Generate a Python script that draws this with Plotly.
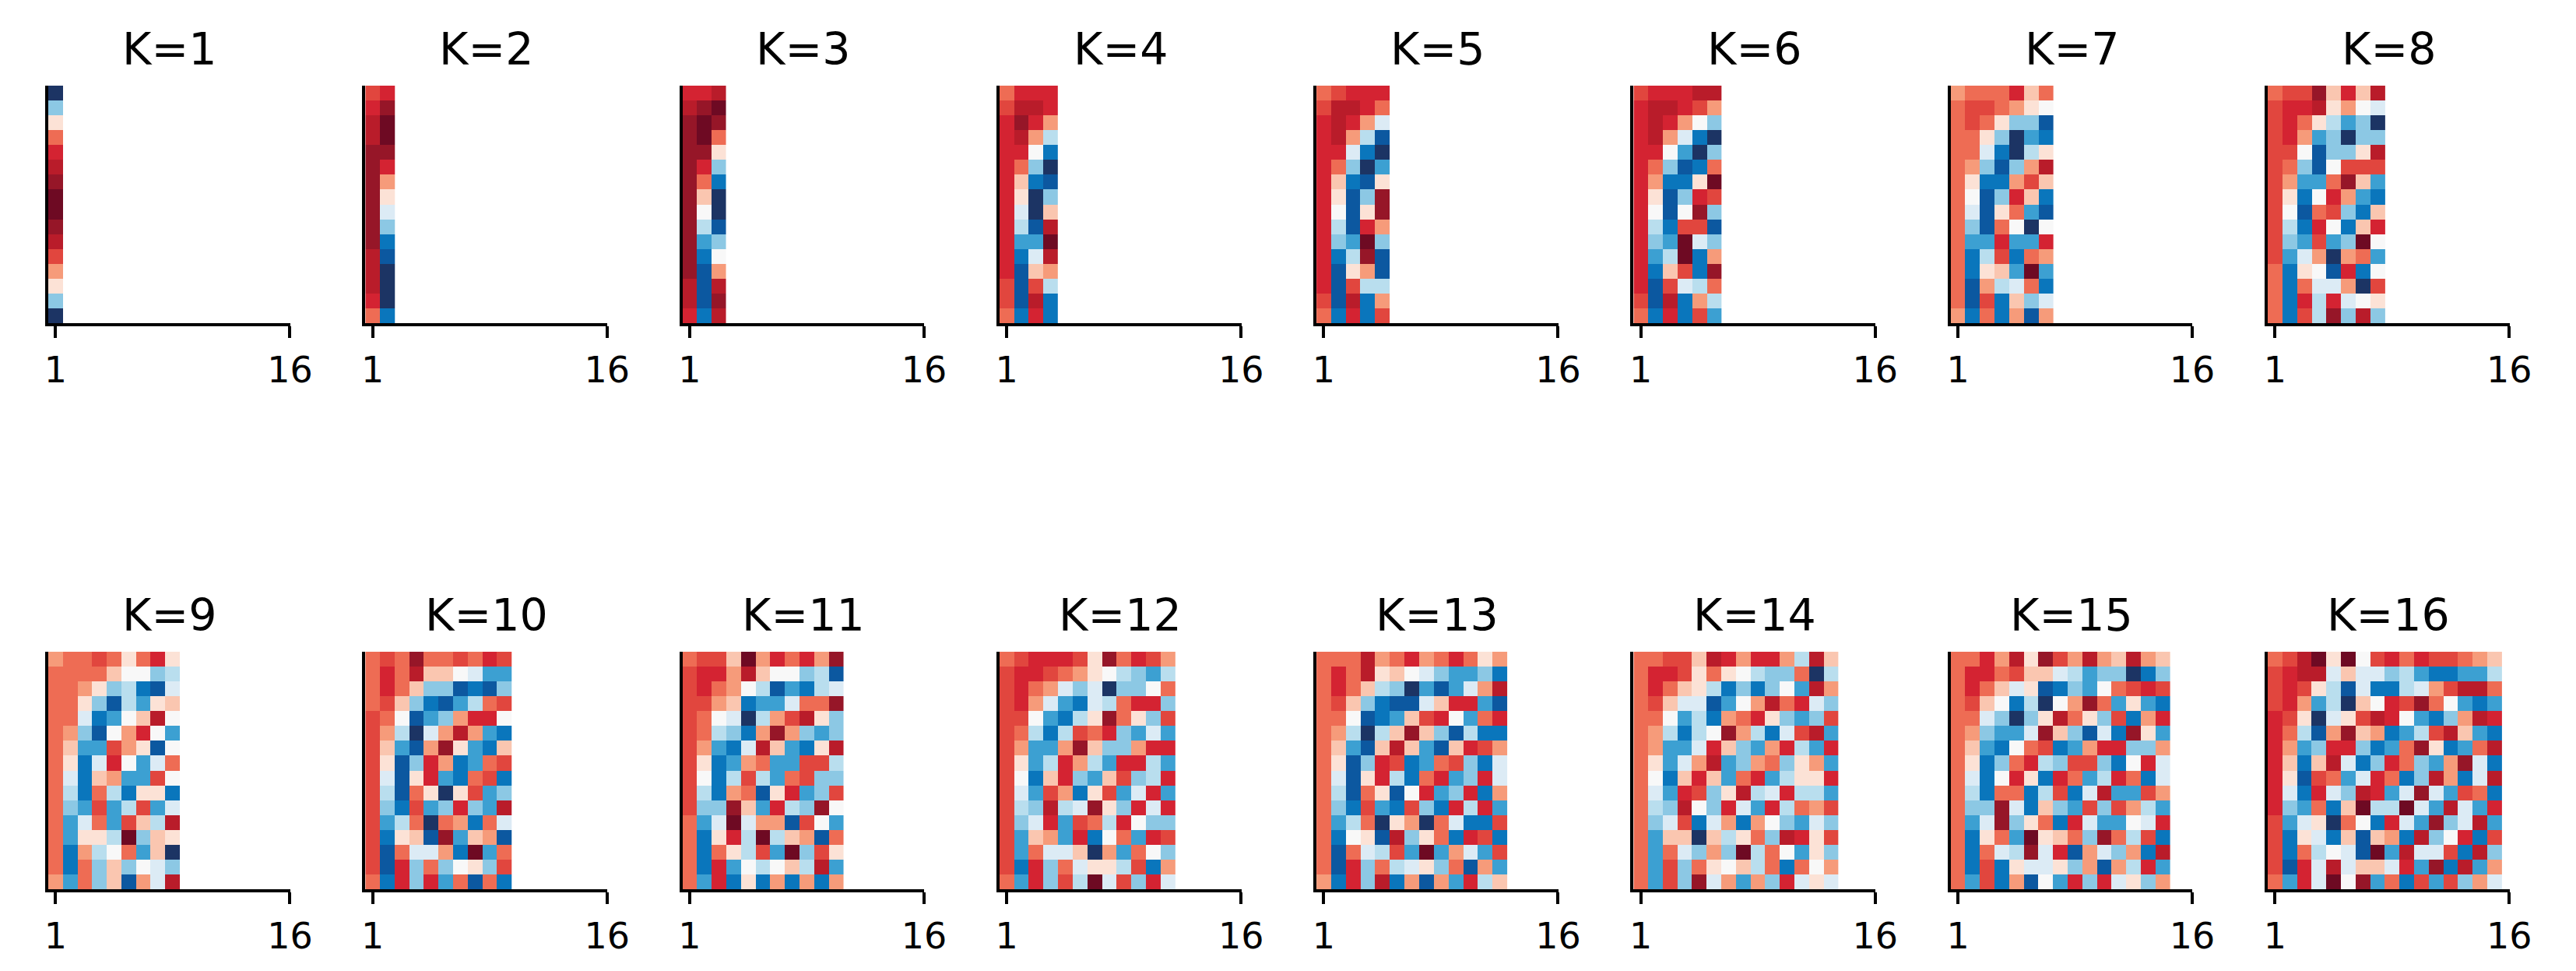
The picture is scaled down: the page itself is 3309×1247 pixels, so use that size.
import plotly.graph_objects as go

# value levels, strongest red -> white -> strongest blue
LEVELS = "MDRrsSLQPWpqlmbBN"
LEVEL_COLORS = [
    "rgb(110,10,35)", "rgb(150,22,40)", "rgb(185,28,42)", "rgb(212,35,50)",
    "rgb(225,70,62)", "rgb(238,108,84)", "rgb(246,155,122)", "rgb(250,198,176)",
    "rgb(252,226,214)", "rgb(248,248,248)", "rgb(220,235,245)", "rgb(185,222,238)",
    "rgb(140,200,228)", "rgb(60,160,210)", "rgb(10,118,188)", "rgb(12,88,160)",
    "rgb(28,52,100)",
]

K1 = ["N", "l", "P", "S", "r", "R", "D", "M", "M", "D", "R", "s", "L", "P", "l", "N"]
K2 = ["sr", "rD", "RM", "RM", "DD", "Dr", "DL", "DP", "Dp", "Dl", "Db", "RB", "RN", "RN", "rN", "Sb"]
K3 = ["rrR", "RDM", "DMD", "DMS", "DDP", "Drl", "DSb", "DQN", "DWN", "DqB", "Dml", "DbW",
      "DBL", "RBR", "RBD", "rbR"]
K4 = ["Srrr", "sRRr", "rDrL", "rRLq", "rrWb", "rSlN", "rQbB", "rPNl", "rpNQ", "rqBR", "rmmM",
      "rbpR", "rBQL", "sBsq", "sBRb", "Sbrb"]
K5 = ["Ssrrr", "sRRrS", "rRrLp", "rRLqB", "rrpbN", "rSlNm", "rQbBP", "rPBlD", "rWBPD", "rqBrL",
      "rlmMl", "rbqDB", "rBPLB", "rBsqq", "sBRbL", "Sbrbs"]
K6 = ["srrrRR", "rRRrsL", "rRrLWl", "rRLpbN", "rrWmNl", "rSlBbS", "rLbbPM", "rPBlrs", "rWBWDl",
      "rqbssB", "rlmMpl", "rmqMbL", "rbQsbD", "rBspqS", "sBRbLq", "Sbrbsm"]
K7 = ["LSSSrQS", "SssSLPW", "SsSPllB", "SSPlNmb", "SSpbNqP", "SLlBlLR", "SPbbLsQ", "SWBlrQb",
      "SpBPSmB", "SlBSWNW", "Smmrmmr", "SbqsbSL", "SbPQmMm", "SBLqpSb", "SBsbQlp", "LbSbLBL"]
K8 = ["SssDQrQR", "srrRPLWp", "srSPqmlN", "srLmlNll", "ssWBllPR", "sSlBWsss", "sLmmSDQm",
      "sPbWrLmb", "sWBSslbQ", "sqbrWbQr", "slmsmlMW", "smpLNLSm", "SbPWBrbW", "SbSppLNs",
      "SbrqrpWP", "SbsqDlRl"]
K9 = ["LSSsSPSrP", "SSSSQWWlq", "SSLPlqbBp", "SSPlBqmPQ", "SSpbmWQRW", "SLlBWLrWm", "SQmmsLPBW",
      "SPbprWmpS", "SpbQLmmsW", "SqbSqbPPb", "Slmsmqsmp", "SmpSmsQqR", "SmPPqMlQP", "SbLqWSmQN",
      "SbSlQlWpl", "LmSlQBLpR"]
K10 = ["SsSDSSsSrs", "SrSRQQWpmm", "SrSQllBbBl", "SsQlbBmqSs", "sSWBmlLrrW", "sLqNpLRLmb",
       "sQmBLDPmbQ", "sPBlrLbmSs", "spBPrmbSsb", "sqBSPNPsml", "slbsmlrlmR", "smqSNSLbSp",
       "sbPQBDmQLB", "sBSppLbMmS", "sBrlSlWPls", "SbrlrmSBSb"]
K11 = ["SssQMLrSrLD", "srrLRQWWlqB", "srSLWqBmbqp", "ssLQbmmpSSD", "sSWpNqLsRPl", "sSqlbLDLlml",
       "sLmbpRQmbPR", "sPbmLSmmssq", "sWbqsqmSsll", "sqbLSBPrmls", "sllDQmrqlDW", "SmpMpLLBsWm",
       "SbPrqMqQLBS", "SbSPqsmMlsP", "SbrmWqWQqRm", "SmrbPbLbLbL"]
K12 = ["SsrrrsPDSrsL", "srrsSLPWqlmq", "srSLplpNllWS", "srLpmbpqSrrl", "ssWmbqPDSPls",
       "sSqbqsSrlmpm", "sLmmLDQllLrr", "sPmqrLqmrrqm", "sWbQrlmQslqr", "spmsLbPsmprm",
       "sqlRqpDPlrpr", "slprmsSqrWll", "smQLmrbWSmrs", "smSppQNLmSWl", "sbrlSpPPqsbL",
       "SmrlsqMpslrp"]
K13 = ["SSSRLSrLSrSPL", "SrSRPQWplmmlb", "SrSQqlNmBmpLR", "SsQlbBBpQrrmB", "SSWBbmQsrWmSr",
       "SLqNqQDQlBqbb", "SQmBQRQmBQrsL", "SPBlrsbmSslbp", "SpBPrqbSrmlrp", "SqBSPBWrmlrbL",
       "Slbsmbslbrqrm", "SmqSNPLNSpbbs", "SbWPBRlPSbrsb", "SBSpqsmMmLpms", "SBrlSqpPlSBLm",
       "LbrlRbLBLmrqQ"]
K14 = ["SSssQRrLrrLqRQ", "SrrsPSPWqllSNq", "SrSQPqblblWmRL", "SsQppBmWLRSrpl", "SSWmqbLSrPlmls",
       "SLqbqWDLqbpsRm", "SLmmprQlmLrqmr", "SPmpLRmlLSlPLm", "SWbQrQmSrmqPPr", "SpmrslPRqprqqm",
       "SqlRWlrpmrqSLs", "SlpsbpLbLWlmpl", "SmQQNQqPSlRrPs", "SmSplLlMqSWmPl", "SmslSPWQqSbSWL",
       "SmslDpLmLlrpPp"]
K15 = ["SSrLRPDsLRLQRLQ", "SrrSsQQpqmllNbl", "SrSQpPBblmWSsrs", "SsQWbqNWLDSmPmb",
       "SSplNlPRSPlsbLr", "SLlmmpDQlBpbDPm", "SQmbWSsbmLrrllL", "SPblSrqlsslbWrp",
       "SpbWrPbrSmqrSbp", "SqbSSbqsbpRmmsL", "SllDpbQlmslsLqm", "SmpDlPSbrpmmWpr",
       "SbPSmMPQSlDSqsb", "SbSpqDprBLplLbR", "SbsbPppPlLBLqrm", "SmsbLBWmrlrpPlL"]
K16 = ["SsRMPMWsrSrssSLQ", "srRRpQpplqmbbmmq", "srsPqBpbbqpLsRRS", "srLmqNQWrsDSWmbm",
       "rsPNpPsRrWmblLRr", "rSqBLDQLbmqsRQmb", "rLmlrrlbmSDPbmSR", "rQbQRpblrSlmLDpb",
       "rPBsSmprSblRLbpR", "rpbrplRrmpDpmsSb", "rlmSbQMqqMpmRpmr", "smpPNSWbrpmDlpRm",
       "sbPpbQBQLbRlWrbs", "sbSqWpBMmRppsbRl", "sBrpRpQQprmDbRmL", "SmrpMWDmSbsmslLp"]

PANELS = [K1, K2, K3, K4, K5, K6, K7, K8, K9, K10, K11, K12, K13, K14, K15, K16]
TITLES = [f"K={k}" for k in range(1, 17)]
N_ROWS = 16

W, H = 3309, 1247
FONT = "DejaVu Sans"
n_levels = len(LEVELS)
colorscale = [[i / (n_levels - 1), c] for i, c in enumerate(LEVEL_COLORS)]

fig = go.Figure()
annotations = []
for i, rows in enumerate(PANELS):
    k = i + 1
    assert len(rows) == N_ROWS and all(len(r) == k for r in rows), k
    z = [[LEVELS.index(ch) for ch in r] for r in rows]
    n = "" if i == 0 else str(i + 1)
    row, col = divmod(i, 8)
    x0 = (49.5 + 411.5 * col) / W
    x1 = (363.5 + 411.5 * col) / W
    if row == 0:
        y0, y1 = 1 - 407 / H, 1 - 102 / H
    else:
        y0, y1 = 1 - 1134 / H, 1 - 829 / H

    fig.add_trace(go.Heatmap(
        z=z, x=list(range(1, k + 1)), y=list(range(1, N_ROWS + 1)),
        colorscale=colorscale, zmin=0, zmax=n_levels - 1,
        showscale=False, xaxis="x" + n, yaxis="y" + n, hoverinfo="skip",
    ))
    fig.layout["xaxis" + n] = dict(
        domain=[x0, x1], anchor="y" + n, range=[0.5, 17.02],
        tickvals=[1, 17], ticktext=["1", "16"], ticks="outside",
        ticklen=15, tickwidth=3.5, tickcolor="black", ticklabelstandoff=2,
        showline=True, linecolor="black", linewidth=3.5,
        showgrid=False, zeroline=False, fixedrange=True,
        tickfont=dict(family=FONT, size=46, color="black"),
    )
    fig.layout["yaxis" + n] = dict(
        domain=[y0, y1], anchor="x" + n, range=[N_ROWS + 0.5, 0.5],
        showticklabels=False, ticks="", showline=True, linecolor="black",
        linewidth=3.5, showgrid=False, zeroline=False, fixedrange=True,
    )
    annotations.append(dict(
        text=TITLES[i], xref="paper", yref="paper", x=(x0 + x1) / 2, y=y1,
        xanchor="center", yanchor="bottom", yshift=12, showarrow=False,
        font=dict(family=FONT, size=57, color="black"),
    ))

fig.update_layout(
    width=W, height=H, margin=dict(l=0, r=0, t=0, b=0),
    paper_bgcolor="white", plot_bgcolor="white",
    annotations=annotations, showlegend=False,
)
fig.write_html("out.html")
